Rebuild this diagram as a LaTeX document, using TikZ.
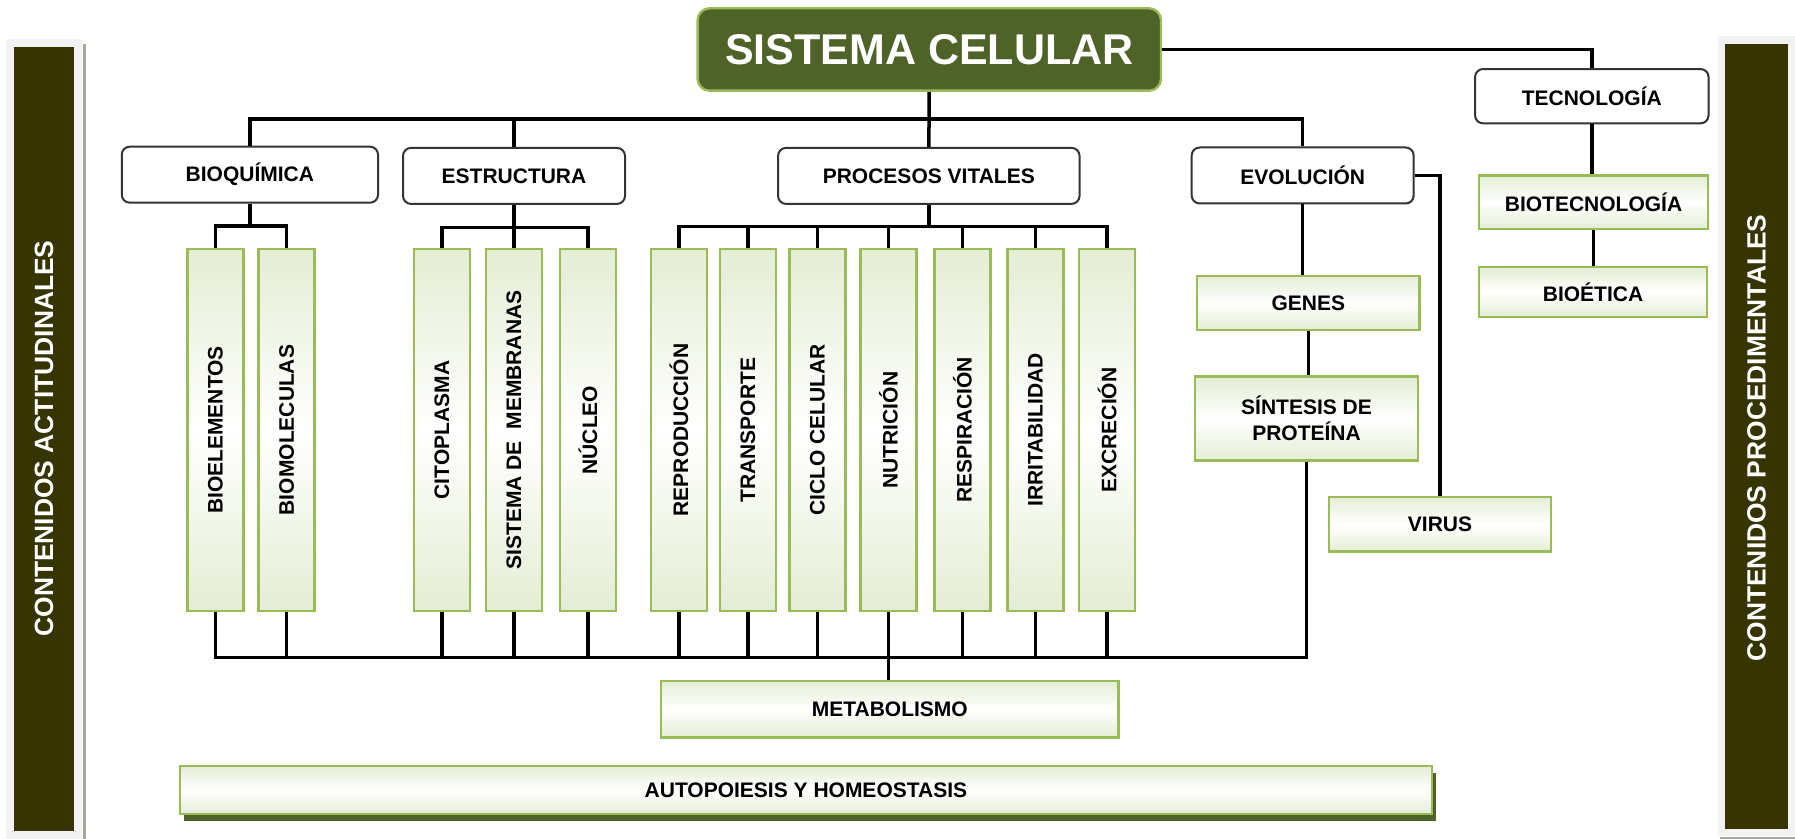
\documentclass[tikz,border=0pt]{standalone}
\usepackage{fontspec}
\setmainfont{Liberation Sans}
\usetikzlibrary{shadows}
\definecolor{barolive}{RGB}{54,52,0}
\definecolor{barframe}{HTML}{F2F2F2}
\definecolor{barshadow}{HTML}{A3A699}
\definecolor{cellgreen}{HTML}{4F6228}
\definecolor{leafgreen}{HTML}{9BBB59}
\definecolor{palegreen}{HTML}{E4EDD4}
\definecolor{edgegray}{HTML}{333333}

\begin{document}
\begin{tikzpicture}[x=0.5pt, y=-0.5pt,
  font=\bfseries\fontsize{10.5}{13}\selectfont,
  link/.style={line width=1.75pt},
  topic/.style={draw=edgegray, line width=1pt, rounded corners=4pt, fill=white, inner sep=0pt, minimum height=28pt},
  leaf/.style={draw=leafgreen, line width=1.2pt, top color=palegreen, bottom color=palegreen, middle color=white, inner sep=0pt, align=center},
  vleaf/.style={leaf, minimum width=28pt, minimum height=181pt},
  sidebar/.style={text=white, font=\bfseries\fontsize{13.2}{15}\selectfont, rotate=90}]
\useasboundingbox (0,0) rectangle (1795,839);

\fill[barframe] (6,39) rectangle (81.7,839);
\fill[barshadow] (82.7,44) rectangle (86,839);
\fill[barolive] (14,47.3) rectangle (74,831);
\node[sidebar] (actit) at (44,438.5) {CONTENIDOS ACTITUDINALES};
\fill[barframe] (1717.7,36) rectangle (1795,836);
\fill[barshadow] (1720,837) rectangle (1795,839);
\fill[barolive] (1725.3,44.3) rectangle (1787.6,828.7);
\node[sidebar] (proced) at (1756.5,438) {CONTENIDOS PROCEDIMENTALES};

\node[fill=cellgreen, draw=leafgreen, line width=1.2pt, rounded corners=6pt, minimum width=231.7pt, minimum height=41.2pt, text=white, font=\bfseries\fontsize{21.5}{24}\selectfont] (sis) at (929.3,49.5) {SISTEMA CELULAR};

\node[topic, minimum width=128.15pt] (bioq) at (249.9,174.7) {BIOQUÍMICA};
\node[topic, minimum width=111pt] (est) at (514,175.9) {ESTRUCTURA};
\node[topic, minimum width=150.75pt] (pro) at (928.8,175.9) {PROCESOS VITALES};
\node[topic, minimum width=111pt] (evo) at (1302.7,175.5) {EVOLUCIÓN};
\node[topic, minimum width=116.75pt, minimum height=27.15pt] (tec) at (1591.8,96.2) {TECNOLOGÍA};

\node[leaf, minimum width=114.5pt, minimum height=26.8pt] (biotec) at (1593.5,202.5) {BIOTECNOLOGÍA};
\node[leaf, minimum width=114pt, minimum height=24.85pt] (bioet) at (1593,291.9) {BIOÉTICA};
\node[leaf, minimum width=111.25pt, minimum height=27pt] (genes) at (1308.3,303) {GENES};
\node[leaf, minimum width=111.5pt, minimum height=42pt] (syn) at (1306.5,418.7) {SÍNTESIS DE\\PROTEÍNA};
\node[leaf, minimum width=111pt, minimum height=27.2pt] (virus) at (1440,524.5) {VIRUS};
\node[leaf, minimum width=228.8pt, minimum height=28.3pt] (meta) at (889.8,709) {METABOLISMO};
\node[leaf, minimum width=625.85pt, minimum height=24.15pt, general shadow={fill=cellgreen, shadow xshift=2pt, shadow yshift=-3.5pt}] (auto) at (805.9,789.9) {AUTOPOIESIS Y HOMEOSTASIS};

\node[vleaf] (bioel) at (215.5,430) {\rotatebox{90}{BIOELEMENTOS}};
\node[vleaf] (biomol) at (286.6,430) {\rotatebox{90}{BIOMOLECULAS}};
\node[vleaf] (cito) at (442,430) {\rotatebox{90}{CITOPLASMA}};
\node[vleaf] (sismem) at (514,430) {\rotatebox{90}{SISTEMA DE~~MEMBRANAS}};
\node[vleaf] (nuc) at (588,430) {\rotatebox{90}{NÚCLEO}};
\node[vleaf] (repro) at (679,430) {\rotatebox{90}{REPRODUCCIÓN}};
\node[vleaf] (trans) at (748,430) {\rotatebox{90}{TRANSPORTE}};
\node[vleaf] (ciclo) at (817.5,430) {\rotatebox{90}{CICLO CELULAR}};
\node[vleaf] (nutri) at (888.5,430) {\rotatebox{90}{NUTRICIÓN}};
\node[vleaf] (resp) at (962.4,430) {\rotatebox{90}{RESPIRACIÓN}};
\node[vleaf] (irrit) at (1035.4,430) {\rotatebox{90}{IRRITABILIDAD}};
\node[vleaf] (excr) at (1107.2,430) {\rotatebox{90}{EXCRECIÓN}};

\coordinate (topbus) at (0,119);
\coordinate (bqbus) at (0,226);
\coordinate (esbus) at (0,227.7);
\coordinate (pvbus) at (0,226.7);
\coordinate (lowbus) at (0,657.7);

\draw[link] (sis) -- (pro);
\draw[link] (bioq.north) |- (topbus -| evo.north) -- (evo.north);
\draw[link] (est.north) -- (est.north |- topbus);
\draw[link] (sis.east) -| (tec.north);
\draw[link] (tec.south) -- (tec.south |- biotec.north);
\draw[link] (biotec.south) -- (biotec.south |- bioet.north);

\draw[link] (bioq.south) -- (bioq.south |- bqbus);
\draw[link] (bioel.north) |- (bqbus -| biomol.north) -- (biomol.north);
\draw[link] (est) -- (sismem);
\draw[link] (cito.north) |- (esbus -| nuc.north) -- (nuc.north);
\draw[link] (pro.south) -- (pro.south |- pvbus);
\draw[link] (repro.north) |- (pvbus -| excr.north) -- (excr.north);
\draw[link] (trans.north) -- (trans.north |- pvbus) (ciclo.north) -- (ciclo.north |- pvbus)
  (nutri.north) -- (nutri.north |- pvbus) (resp.north) -- (resp.north |- pvbus)
  (irrit.north) -- (irrit.north |- pvbus);

\draw[link] (evo.south) -- (evo.south |- genes.north);
\draw[link] (genes.south) -- (genes.south |- syn.north);
\draw[link] (evo.east) -| (virus.north);

\draw[link] (syn.south) |- (lowbus -| bioel.south) -- (bioel.south);
\draw[link] (biomol.south) -- (biomol.south |- lowbus) (cito.south) -- (cito.south |- lowbus)
  (sismem.south) -- (sismem.south |- lowbus) (nuc.south) -- (nuc.south |- lowbus)
  (repro.south) -- (repro.south |- lowbus) (trans.south) -- (trans.south |- lowbus)
  (ciclo.south) -- (ciclo.south |- lowbus) (resp.south) -- (resp.south |- lowbus)
  (irrit.south) -- (irrit.south |- lowbus) (excr.south) -- (excr.south |- lowbus);
\draw[link] (nutri.south) -- (nutri.south |- meta.north);
\end{tikzpicture}
\end{document}
